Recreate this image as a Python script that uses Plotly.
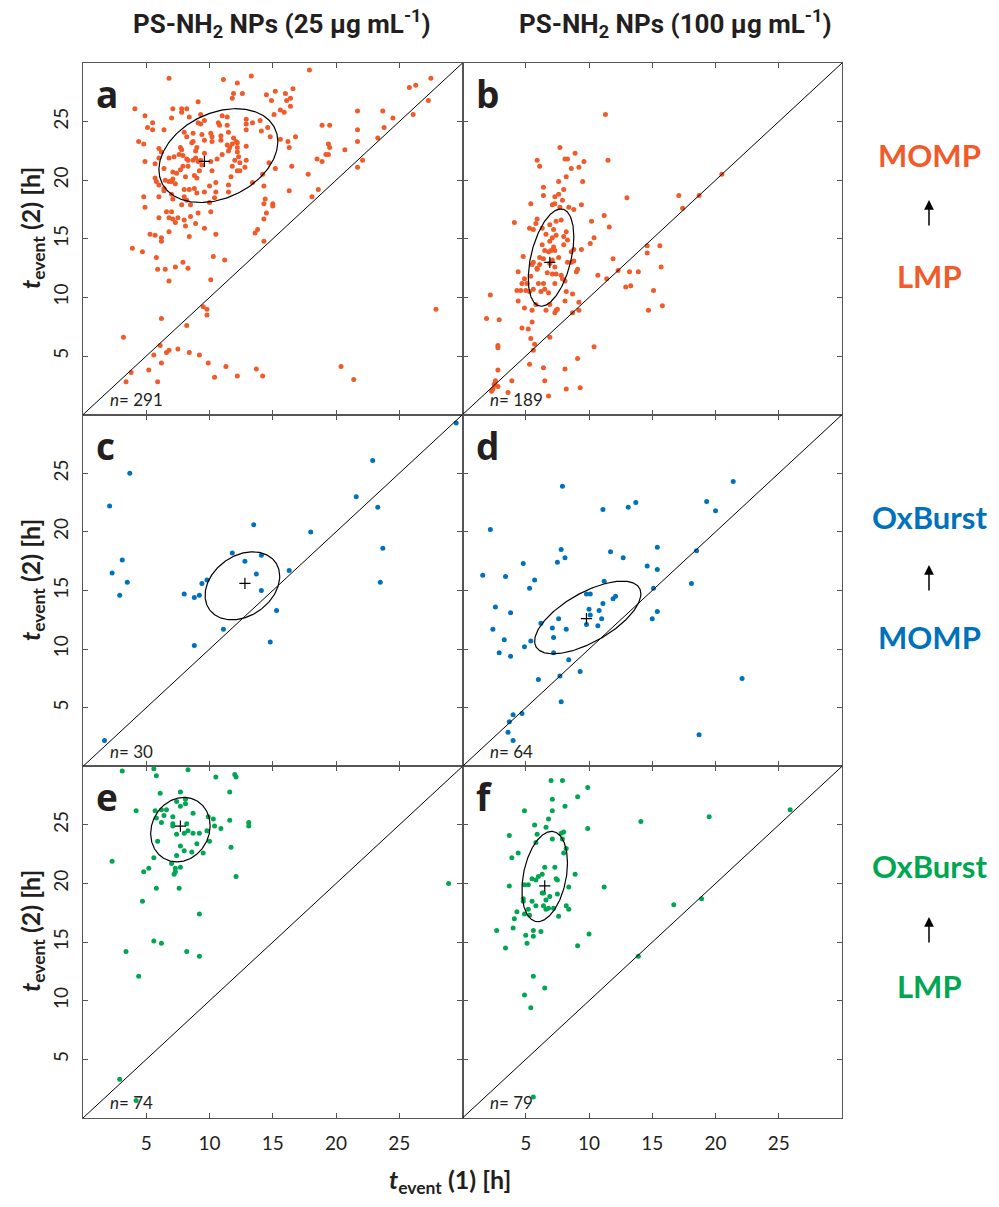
import numpy as np
import plotly.graph_objects as go
from plotly.subplots import make_subplots

ORANGE = "#F15A29"
BLUE = "#0072BC"
GREEN = "#00A651"
INK = "#231F20"
FRAME = "#555555"

# ---------------- data: t_event(1) vs t_event(2), hours ----------------
# panel a: LMP -> MOMP, 25 ug/mL
A_X = [6.8, 4.1, 4.9, 5.5, 5.1, 5.5, 6.4, 7.1, 7.8, 7.8, 8.2, 9.1, 7.0, 8.4, 9.3, 9.1, 9.3, 9.6, 8.0, 8.2,
       8.7, 9.4, 10.1, 9.6, 10.2, 10.7, 11.0, 11.4, 10.8, 11.4, 11.5, 10.9, 10.9, 10.2, 11.9, 12.1, 11.8, 12.2, 11.4, 11.5,
       11.6, 12.2, 12.9, 12.2, 11.0, 12.9, 12.9, 12.9, 13.4, 14.0, 14.1, 14.6, 14.8, 14.5, 14.9, 13.3, 12.2, 11.9, 11.8, 12.6,
       11.1, 4.4, 4.8, 4.9, 6.0, 6.2, 6.0, 5.7, 6.4, 6.8, 7.2, 7.7, 7.8, 7.6, 7.9, 8.2, 8.7, 8.6, 9.0, 8.9,
       8.3, 7.9, 8.3, 8.7, 8.9, 9.1, 9.3, 9.6, 9.4, 9.2, 8.8, 9.0, 8.1, 7.7, 7.4, 7.1, 7.1, 6.8, 7.0, 7.3,
       6.5, 6.4, 6.4, 5.7, 5.8, 6.0, 4.8, 4.9, 6.0, 7.0, 7.1, 8.0, 8.0, 8.4, 8.8, 7.8, 8.2, 8.5, 9.0, 9.6,
       10.0, 10.2, 10.1, 10.5, 10.6, 10.0, 10.4, 10.5, 11.5, 11.7, 11.8, 12.2, 12.4, 12.4, 12.0, 12.3, 12.8, 12.9, 11.5, 13.4,
       14.3, 14.2, 14.7, 14.3, 14.4, 15.0, 15.0, 14.5, 14.3, 13.8, 13.6, 14.3, 6.0, 6.6, 7.0, 6.8, 7.1, 7.5, 7.3, 8.0,
       8.1, 8.5, 8.9, 9.6, 10.5, 8.4, 6.8, 6.2, 5.7, 5.3, 9.1, 10.1,
       17.9, 27.5, 25.8, 26.3, 27.3, 26.1, 16.6, 15.2, 16.0, 16.1, 16.4, 16.4, 15.9, 15.6, 15.1, 18.9, 19.5, 21.7, 23.7, 24.5,
       23.8, 21.7, 23.3, 21.7, 16.8, 16.2, 16.3, 15.6, 19.4, 19.5, 19.2, 19.4, 20.7, 18.5, 18.9, 22.1, 21.7, 15.2, 16.5, 17.8,
       16.3, 18.6, 18.1,
       3.9, 4.7, 5.8, 5.9, 6.5, 6.8, 7.3, 7.9, 8.3, 10.3, 11.2, 10.1, 6.2, 9.5, 9.8, 9.8, 6.2, 8.2, 3.2, 6.1,
       6.8, 6.6, 7.5, 8.4, 9.2, 5.6, 6.2, 9.9, 11.3, 3.8, 5.2, 13.7, 14.2, 12.2, 10.4, 3.4, 5.9, 20.4, 21.4, 27.9]
A_Y = [28.7, 26.1, 25.5, 24.9, 24.5, 24.3, 24.3, 26.1, 26.1, 25.8, 26.1, 26.7, 25.3, 25.4, 25.6, 24.9, 24.8, 25.1, 24.1, 23.7,
       24.0, 23.9, 24.0, 23.4, 23.7, 24.9, 25.5, 25.4, 24.7, 24.7, 24.1, 23.8, 23.4, 23.3, 23.6, 23.3, 23.1, 23.2, 23.0, 22.5,
       22.8, 22.8, 22.9, 22.4, 22.2, 25.2, 24.8, 24.3, 24.9, 25.1, 24.2, 24.5, 23.7, 27.3, 26.8, 28.9, 28.3, 27.4, 27.0, 27.4,
       28.6, 23.3, 23.1, 21.6, 22.7, 22.4, 21.9, 21.4, 21.0, 21.9, 22.0, 22.8, 22.6, 22.2, 22.1, 21.8, 23.3, 23.2, 22.8, 22.5,
       21.7, 21.2, 21.2, 21.7, 21.9, 21.6, 21.7, 22.3, 21.3, 20.8, 20.4, 20.2, 20.3, 20.9, 20.6, 20.7, 20.1, 19.9, 19.9, 19.7,
       20.0, 19.3, 19.1, 20.2, 19.9, 19.6, 18.6, 17.7, 18.6, 18.8, 18.4, 19.2, 18.6, 19.2, 19.3, 17.9, 18.3, 17.9, 18.9, 19.0,
       19.5, 20.8, 21.6, 19.8, 21.8, 18.1, 18.5, 19.0, 19.6, 20.3, 21.2, 20.8, 20.8, 21.5, 21.7, 22.0, 21.1, 21.7, 19.0, 19.8,
       19.5, 20.5, 21.5, 18.0, 18.4, 18.0, 17.8, 17.2, 16.7, 15.8, 15.5, 14.8, 16.8, 17.3, 17.3, 16.8, 16.7, 16.8, 16.4, 16.6,
       16.1, 16.9, 16.3, 15.9, 15.4, 15.2, 15.6, 15.1, 15.3, 15.4, 17.2, 17.3,
       29.4, 28.7, 27.9, 28.1, 26.8, 25.6, 27.8, 27.6, 27.4, 26.8, 27.0, 26.3, 25.8, 26.0, 25.6, 24.7, 24.7, 25.9, 25.9, 25.3,
       24.5, 24.3, 23.6, 23.3, 23.7, 23.3, 22.8, 23.5, 23.1, 22.8, 22.2, 22.2, 22.6, 21.8, 21.6, 21.7, 21.1, 21.0, 21.2, 20.5,
       19.1, 19.2, 18.6,
       14.2, 13.9, 13.4, 12.4, 12.4, 11.4, 12.6, 13.0, 12.5, 13.5, 13.2, 11.5, 14.8, 9.2, 9.0, 8.5, 8.2, 7.6, 6.6, 5.9,
       5.5, 5.3, 5.6, 5.3, 5.1, 5.1, 4.4, 4.4, 4.1, 3.6, 3.8, 3.9, 3.3, 3.3, 3.2, 2.8, 2.8, 4.1, 3.0, 9.0]

# panel b: LMP -> MOMP, 100 ug/mL
B_X = [11.3, 7.7, 8.9, 8.1, 8.3, 5.9, 11.5, 6.1, 9.6, 8.6, 9.2, 8.2, 7.6, 9.5, 6.4, 8.0, 7.6, 7.3, 6.4, 7.9,
       5.4, 7.3, 7.1, 7.7, 8.4, 9.4, 8.8, 13.0, 17.1, 18.7, 17.4, 20.5, 11.2, 5.9, 5.8, 4.1, 10.2, 11.6, 5.3, 5.6,
       6.3, 6.9, 7.2, 7.8, 7.4, 6.6, 7.4, 7.1, 6.9, 8.2, 8.0, 8.3, 8.0, 10.4, 10.1, 6.3, 7.2, 6.5, 7.0, 6.8,
       7.3, 8.6, 8.8, 9.4, 6.4, 6.1, 7.1, 4.8, 5.6, 5.5, 5.9, 6.1, 6.9, 7.6, 8.3, 8.6, 8.8, 7.3, 9.1, 9.0,
       4.4, 5.9, 6.7, 7.1, 7.4, 7.8, 5.4, 7.9, 4.9, 4.7, 5.1, 6.0, 6.4, 7.3, 8.1, 4.3, 4.6, 5.0, 5.3, 5.6,
       6.5, 6.8, 6.2, 8.2, 8.7, 4.4, 4.9, 5.5, 5.8, 6.6, 6.9, 7.4, 7.5, 7.3, 8.1, 9.2, 9.2, 8.7, 2.2, 1.9,
       2.9, 4.7, 5.2, 5.5, 5.4, 5.7, 5.6, 6.9, 2.8, 2.8, 2.8, 10.7, 11.4, 11.9, 12.3, 13.2, 13.9, 12.9, 13.3, 14.6,
       14.6, 15.6, 15.7, 15.1, 15.8, 14.7, 10.4, 9.1, 5.3, 6.4, 8.1, 3.9, 6.5, 2.6, 2.5, 2.6, 2.8, 2.4, 2.3, 3.6,
       8.2, 9.3, 6.8]
B_Y = [25.6, 22.8, 22.3, 21.8, 21.8, 21.7, 21.7, 21.2, 21.6, 21.0, 21.1, 20.3, 19.9, 19.9, 19.4, 19.2, 18.8, 18.6, 18.7, 18.3,
       18.0, 18.0, 17.9, 17.7, 17.7, 17.9, 17.5, 18.5, 18.7, 18.7, 17.6, 20.5, 17.0, 16.7, 16.3, 16.4, 16.5, 16.0, 15.9, 15.8,
       15.9, 16.2, 15.8, 16.6, 16.5, 15.4, 15.3, 15.1, 14.8, 15.6, 15.2, 14.9, 14.5, 15.1, 14.6, 14.5, 14.3, 14.0, 14.0, 13.9,
       14.0, 13.9, 14.1, 14.1, 13.3, 13.4, 13.2, 13.5, 13.0, 12.8, 12.5, 12.8, 12.9, 13.4, 13.0, 13.0, 13.1, 12.6, 12.4, 12.2,
       12.2, 12.4, 12.1, 12.0, 12.0, 11.9, 11.8, 11.6, 11.6, 11.2, 11.2, 11.2, 11.2, 11.2, 11.4, 10.6, 10.6, 10.6, 10.5, 10.7,
       10.7, 10.4, 10.5, 10.5, 10.3, 9.7, 9.1, 8.9, 9.4, 8.9, 9.4, 8.9, 9.0, 8.7, 9.7, 9.6, 8.9, 8.7, 10.2, 8.2,
       8.1, 7.4, 7.3, 7.9, 6.5, 6.0, 5.5, 6.6, 5.9, 5.7, 3.8, 11.9, 11.6, 13.3, 12.3, 12.2, 12.2, 10.9, 11.0, 14.4,
       13.8, 14.4, 12.6, 10.6, 9.3, 8.9, 5.8, 4.8, 4.3, 4.0, 3.9, 2.9, 2.9, 2.9, 2.6, 2.5, 2.4, 2.2, 2.0, 1.9,
       2.2, 2.3, 1.6]

# panel c: MOMP -> OxBurst, 25 ug/mL
C_X = [29.5, 22.9, 3.7, 21.6, 2.1, 23.3, 13.5, 18.0, 23.7, 11.8, 14.1, 3.1, 12.8, 16.3, 2.3, 13.7, 3.5, 23.5, 9.8, 9.4,
       14.1, 8.0, 9.2, 2.9, 8.8, 15.3, 11.1, 14.8, 8.8, 1.7]
C_Y = [29.3, 26.1, 25.0, 23.0, 22.2, 22.1, 20.6, 20.0, 18.6, 18.2, 18.0, 17.6, 17.5, 16.7, 16.5, 16.4, 15.7, 15.7, 15.9, 15.6,
       15.0, 14.7, 14.6, 14.6, 14.4, 13.3, 11.7, 10.6, 10.3, 2.2]

# panel d: MOMP -> OxBurst, 100 ug/mL
D_X = [7.9, 21.4, 19.3, 20.0, 11.1, 13.1, 13.7, 2.2, 7.8, 11.7, 15.4, 8.1, 7.5, 12.7, 4.8, 14.6, 15.4, 18.5, 1.6, 3.4,
       5.7, 11.2, 5.3, 18.1, 15.1, 9.8, 10.1, 12.1, 11.9, 11.1, 2.6, 10.0, 10.8, 10.1, 3.8, 15.4, 15.0, 7.6, 11.0, 9.8,
       10.7, 6.2, 7.1, 8.2, 2.4, 7.2, 3.3, 5.4, 4.9, 2.9, 7.2, 3.8, 8.4, 9.3, 7.7, 6.0, 22.1, 7.8, 4.7, 4.0,
       3.7, 3.6, 18.7, 4.0]
D_Y = [23.9, 24.3, 22.6, 21.8, 21.9, 22.1, 22.5, 20.2, 18.5, 18.3, 18.7, 17.8, 17.4, 17.8, 17.3, 17.1, 16.8, 18.4, 16.3, 16.2,
       15.9, 15.8, 15.2, 15.6, 15.2, 14.7, 14.7, 14.5, 14.3, 13.9, 13.6, 13.4, 13.3, 12.9, 13.1, 13.2, 12.6, 12.6, 12.6, 12.1,
       12.0, 12.2, 11.8, 11.7, 11.7, 11.0, 10.8, 10.7, 10.2, 9.7, 9.7, 9.4, 9.1, 8.1, 7.7, 7.4, 7.5, 5.5, 4.5, 4.4,
       3.8, 2.9, 2.7, 2.2]

# panel e: LMP -> OxBurst, 25 ug/mL
E_X = [3.1, 5.6, 5.8, 8.3, 10.5, 12.0, 12.1, 11.6, 6.1, 7.7, 8.1, 7.4, 7.7, 8.1, 4.2, 5.7, 6.2, 6.6, 8.7, 6.4,
       5.8, 7.1, 9.9, 10.3, 11.6, 6.2, 7.1, 7.1, 8.2, 10.4, 10.9, 13.1, 13.1, 7.4, 8.0, 8.3, 8.7, 9.2, 9.8, 5.9,
       9.0, 10.0, 7.7, 11.7, 8.0, 8.6, 9.5, 7.4, 2.3, 5.6, 7.0, 7.7, 7.3, 7.3, 7.2, 5.2, 4.8, 12.1, 28.9, 5.8,
       7.6, 4.7, 9.2, 5.6, 6.2, 3.4, 8.2, 9.2, 4.4, 2.9, 4.2]
E_Y = [29.6, 29.8, 29.2, 29.7, 29.1, 29.3, 29.1, 27.8, 27.7, 27.8, 27.2, 27.0, 26.6, 26.8, 26.2, 26.2, 26.3, 26.3, 26.0, 25.8,
       25.6, 25.7, 25.7, 25.5, 25.4, 25.2, 25.1, 24.9, 25.1, 24.9, 24.7, 24.9, 25.2, 24.2, 24.3, 24.5, 24.3, 24.3, 24.5, 23.6,
       23.4, 23.6, 23.2, 23.1, 22.8, 22.7, 22.6, 22.4, 21.9, 22.2, 21.7, 21.4, 21.3, 21.0, 20.8, 21.3, 21.0, 20.6, 20.0, 19.6,
       19.6, 18.5, 17.4, 15.1, 14.9, 14.2, 14.2, 13.8, 12.1, 3.3, 1.5]

# panel f: LMP -> OxBurst, 100 ug/mL
F_X = [7.0, 7.9, 9.9, 9.1, 7.1, 8.1, 4.9, 7.1, 6.8, 5.7, 6.6, 9.9, 14.1, 19.5, 25.9, 3.7, 5.9, 7.8, 8.0, 7.1,
       7.9, 5.8, 8.2, 8.0, 4.4, 3.9, 6.5, 7.3, 8.9, 6.3, 6.0, 5.5, 5.8, 7.4, 7.5, 4.9, 5.2, 3.7, 8.4, 11.2,
       6.4, 6.3, 7.5, 6.9, 4.8, 4.8, 6.6, 5.5, 18.9, 16.7, 5.8, 6.4, 8.2, 5.2, 6.6, 6.8, 7.2, 8.4, 4.3, 4.9,
       5.3, 7.6, 4.1, 4.0, 2.7, 5.6, 6.2, 5.0, 5.6, 10.0, 5.1, 9.1, 3.4, 13.9, 5.6, 6.5, 4.9, 5.4, 5.6]
F_Y = [28.8, 28.8, 28.2, 27.4, 27.2, 26.6, 26.2, 26.2, 25.5, 25.0, 24.8, 24.7, 25.3, 25.7, 26.3, 24.1, 24.2, 24.3, 24.4, 23.8,
       23.8, 23.5, 23.0, 22.6, 22.6, 22.2, 21.4, 21.4, 20.8, 20.8, 20.6, 20.4, 20.3, 20.4, 20.3, 19.9, 19.9, 19.8, 19.7, 19.7,
       19.2, 19.2, 19.1, 18.9, 18.7, 18.5, 18.6, 18.5, 18.7, 18.2, 18.1, 18.1, 18.1, 17.8, 17.8, 17.9, 17.9, 17.8, 17.6, 17.4,
       17.3, 17.2, 17.0, 16.2, 16.0, 16.0, 15.9, 15.6, 15.5, 15.7, 14.9, 14.7, 14.5, 13.8, 12.1, 11.1, 10.5, 9.4, 1.8]

N_CELLS = [291, 189, 30, 64, 74, 79]

# group means
MEAN_X = [9.6, 6.9, 12.8, 9.8, 7.7, 6.5]
MEAN_Y = [21.6, 13.0, 15.6, 12.6, 24.9, 19.8]

# spread ellipses: centre, half-width, half-height, correlation
ELL_CX = [10.7, 7.0, 12.6, 9.9, 7.7, 6.5]
ELL_CY = [22.1, 13.4, 15.4, 12.7, 24.6, 20.6]
ELL_SX = [4.7, 1.8, 2.95, 4.2, 2.35, 1.8]
ELL_SY = [4.0, 4.15, 2.9, 3.1, 2.75, 3.85]
ELL_RHO = [0.3, 0.43, 0.28, 0.65, 0.12, 0.3]

PANEL_LETTERS = ["a", "b", "c", "d", "e", "f"]
COLUMN_TITLES = ["PS-NH<sub>2</sub> NPs (25 µg mL<sup>-1</sup>)",
                 "PS-NH<sub>2</sub> NPs (100 µg mL<sup>-1</sup>)"]
ROW_EVENTS = [("MOMP", "LMP"), ("OxBurst", "MOMP"), ("OxBurst", "LMP")]
ROW_COLORS = [ORANGE, BLUE, GREEN]
TICKS = [5, 10, 15, 20, 25]

panels = [(A_X, A_Y), (B_X, B_Y), (C_X, C_Y), (D_X, D_Y), (E_X, E_Y), (F_X, F_Y)]

W, H = 999, 1207
ML, MR, MT, MB = 83, 157, 63, 89


def px_x(p):
    return (p - ML) / (W - ML - MR)


def px_y(p):
    return (H - MB - p) / (H - MT - MB)


fig = make_subplots(rows=3, cols=2, horizontal_spacing=0, vertical_spacing=0)

FONT = "Lato, 'Open Sans', sans-serif"
NARROW = "Roboto, Lato, sans-serif"

tt = np.linspace(0, 2 * np.pi, 241)
for i, (xs, ys) in enumerate(panels):
    r, c = i // 2 + 1, i % 2 + 1
    color = ROW_COLORS[r - 1]
    # identity line
    fig.add_shape(type="line", x0=0, y0=0, x1=30, y1=30,
                  line=dict(color="black", width=1), row=r, col=c)
    fig.add_trace(go.Scatter(x=xs, y=ys, mode="markers",
                             marker=dict(size=5, color=color, line=dict(width=0)),
                             hoverinfo="x+y"), row=r, col=c)
    phi = np.arccos(ELL_RHO[i])
    ex = ELL_CX[i] + ELL_SX[i] * np.cos(tt)
    ey = ELL_CY[i] + ELL_SY[i] * np.cos(tt - phi)
    fig.add_trace(go.Scatter(x=ex, y=ey, mode="lines",
                             line=dict(color="black", width=1.2), hoverinfo="skip"),
                  row=r, col=c)
    fig.add_trace(go.Scatter(x=[MEAN_X[i]], y=[MEAN_Y[i]], mode="markers",
                             marker=dict(symbol="cross-thin", size=8,
                                         line=dict(color="black", width=1.2))),
                  row=r, col=c)
    fig.add_annotation(x=0.9, y=27.4, text="<b>%s</b>" % PANEL_LETTERS[i],
                       showarrow=False, xanchor="left", yanchor="middle",
                       font=dict(family="'Open Sans', Lato, sans-serif", size=37, color=INK),
                       row=r, col=c)
    fig.add_annotation(x=2.0, y=1.3, text="<i>n</i>= %d" % N_CELLS[i],
                       showarrow=False, xanchor="left", yanchor="middle",
                       font=dict(family=FONT, size=17, color=INK), row=r, col=c)

axis_style = dict(range=[0, 30], tickvals=TICKS, ticks="inside", ticklen=5,
                  tickwidth=1.2, tickcolor=FRAME, showline=True, linecolor=FRAME,
                  linewidth=1.3, mirror="ticks", showgrid=False, zeroline=False,
                  tickfont=dict(family=FONT, size=19, color=INK))
for r in range(1, 4):
    for c in range(1, 3):
        fig.update_xaxes(axis_style, showticklabels=(r == 3), ticklabelstandoff=8,
                         row=r, col=c)
        fig.update_yaxes(axis_style, showticklabels=(c == 1), tickangle=-90,
                         ticklabelstandoff=6, row=r, col=c)


def label(px, py, text, size, color=INK, family=FONT, angle=0):
    return dict(x=px_x(px), y=px_y(py), xref="paper", yref="paper",
                xanchor="center", yanchor="middle", text=text, textangle=angle,
                showarrow=False, font=dict(family=family, size=size, color=color))


ann = []
for k, title in enumerate(COLUMN_TITLES):
    ann.append(label([282, 675][k], 24, "<b>%s</b>" % title, 26, family=NARROW))

row_mid = [228, 580, 931]
for r in range(3):
    ann.append(label(32, row_mid[r], "<b><i>t</i><sub>event</sub> (2) [h]</b>", 25,
                     angle=-90))
ann.append(label(450, 1181, "<b><i>t</i><sub>event</sub> (1) [h]</b>", 25))

top_lbl = [155, 517, 866]
arrow_head = [200, 565, 917]
bot_lbl = [276, 637, 986]
for r in range(3):
    upper, lower = ROW_EVENTS[r]
    ann.append(label(929, top_lbl[r], "<b>%s</b>" % upper, 31, color=ROW_COLORS[r]))
    ann.append(label(929, bot_lbl[r], "<b>%s</b>" % lower, 31, color=ROW_COLORS[r]))
    ann.append(dict(x=px_x(929), y=px_y(arrow_head[r]), xref="paper", yref="paper",
                    text="", showarrow=True, ax=0, ay=27, arrowhead=2,
                    arrowsize=1.3, arrowwidth=1.5, arrowcolor="black"))

fig.update_layout(width=W, height=H, margin=dict(l=ML, r=MR, t=MT, b=MB),
                  paper_bgcolor="white", plot_bgcolor="white", showlegend=False)
for a in ann:
    fig.add_annotation(a)

fig.write_html("out.html")
